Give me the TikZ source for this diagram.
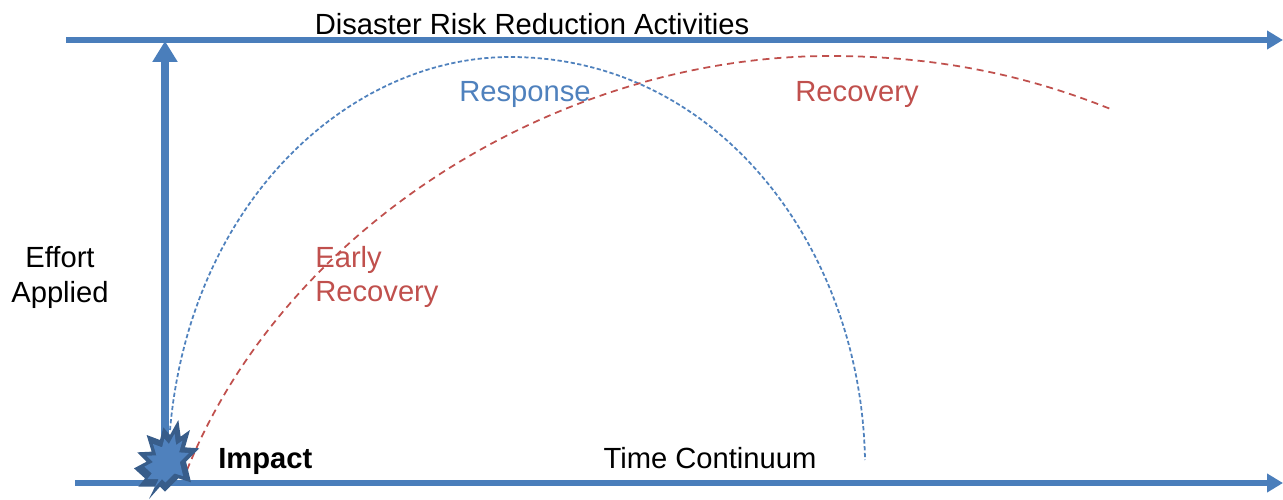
\documentclass[tikz,border=0pt]{standalone}
\usepackage{fontspec}
\setmainfont{Liberation Sans}
\usetikzlibrary{arrows.meta}
\definecolor{axisblue}{HTML}{4A7EBB}
\definecolor{burstedge}{HTML}{385D8A}
\definecolor{burstfill}{HTML}{4F81BD}
\definecolor{recoveryred}{HTML}{C0504D}
\newcommand{\burstpath}{(3.567,1.58) -- (3.613,1.247) -- (3.8,1.38) -- (3.7,1.033) -- (3.987,1.013) -- (3.72,0.747)
        -- (3.82,0.333) -- (3.567,0.413) -- (3.3,0.147) -- (3.2,0.247) -- (2.98,0) -- (3.1,0.247)
        -- (2.767,0.247) -- (2.9,0.413) -- (2.68,0.613) -- (2.933,0.747) -- (2.747,0.933)
        -- (3.033,0.947) -- (2.933,1.28) -- (3.2,1.18) -- (3.267,1.433) -- (3.4,1.28) -- cycle}
\tikzset{
    label/.style = {font=\fontsize{16.6}{19.4}\selectfont,inner sep=0pt},
    timeline/.style = {draw=axisblue,line width=0.13cm,-{Triangle[length=0.32cm,width=0.36cm]}},
    effortline/.style = {draw=axisblue,line width=0.17cm,-{Triangle[length=0.42cm,width=0.48cm]}},
    responsecurve/.style = {draw=burstfill,line width=1pt,dash pattern=on 2.4pt off 1.4pt},
    recoverycurve/.style = {draw=recoveryred,line width=1pt,dash pattern=on 4pt off 2.8pt}}
\begin{document}
\begin{tikzpicture}
    \useasboundingbox (0,0) rectangle (25.66,9.98);
    \path (1.32,9.18) coordinate (topstart)
        + (24.34,0) coordinate (topend)
        (1.5,0.32) coordinate (basestart)
        + (24.16,0) coordinate (baseend)
        (3.3,0.32) coordinate (effortstart)
        + (0,8.84) coordinate (effortend)
        (3.4,1.38) coordinate (responsestart)
        (10.2,8.84) coordinate (responsepeak)
        (17.3,0.78) coordinate (responseend)
        (3.74,0.58) coordinate (recoverystart)
        (16.6,8.86) coordinate (recoverypeak)
        (22.26,7.78) coordinate (recoveryend);
    \node[label] (drr) at (10.64,9.49) {Disaster Risk Reduction Activities};
    \node[label,text=burstfill] (response) at (10.5,8.1) {Response};
    \node[label,text=recoveryred] (recovery) at (17.14,8.1) {Recovery};
    \node[label,text=recoveryred,align=left,anchor=west] (early) at (6.3,4.44) {Early\\Recovery};
    \node[label,align=center] (effort) at (1.2,4.43) {Effort\\Applied};
    \node[label,font=\fontsize{16.6}{19.4}\selectfont\bfseries,anchor=west] (impact) at (4.36,0.76) {Impact};
    \node[label] (time) at (14.2,0.82) {Time Continuum};
    \draw[timeline] (topstart) -- (topend);
    \draw[timeline] (basestart) -- (baseend);
    \draw[effortline] (effortstart) -- (effortend);
    % curves
    \draw[responsecurve] (responsestart) to [out=85,in=180,out distance=4.6cm,in distance=3.2cm] (responsepeak)
        to [out=0,in=91,out distance=4.2cm,in distance=4.2cm] (responseend);
    \draw[recoverycurve] (recoverystart) to [out=68,in=180,out distance=5.28cm,in distance=5.4cm] (recoverypeak)
        to [out=0,in=158,out distance=2.4cm,in distance=1.58cm] (recoveryend);
    % burst
    \fill[burstedge] \burstpath;
    \fill[burstfill,shift={(3.33,0.72)},scale=0.68,shift={(-3.33,-0.72)}] \burstpath;
\end{tikzpicture}
\end{document}
